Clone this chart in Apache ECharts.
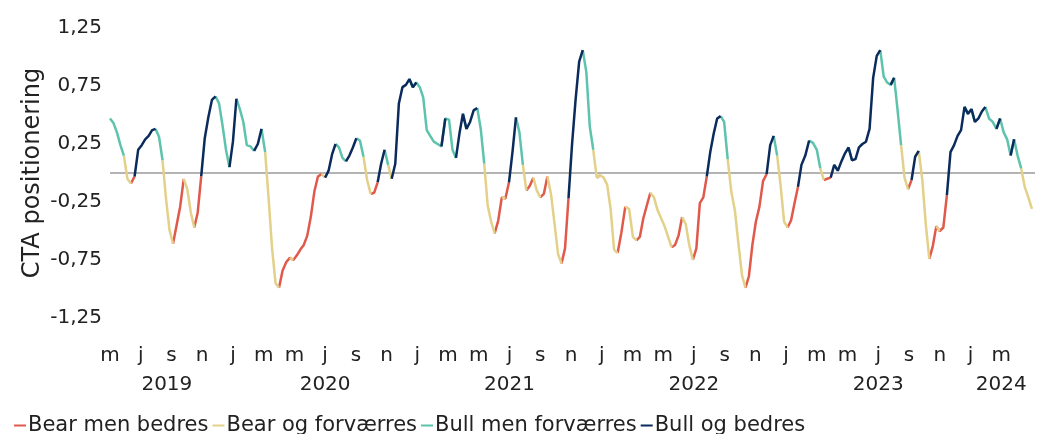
<!DOCTYPE html>
<html>
<head>
<meta charset="utf-8">
<script src="https://cdn.jsdelivr.net/npm/echarts@6/dist/echarts.min.js"></script>
<style>
    html, body { margin: 0; padding: 0; background: #fff; }
    #chart { width: 1048px; height: 434px; }
</style>
</head>
<body>
<div id="chart"></div>
<script>
    // weekly CTA positioning, first point 2019-05-01
    const startDate = '2019-05-01';
    const cta = [
        0.47, 0.43, 0.35, 0.24, 0.15, -0.05, -0.09, -0.03, 0.20, 0.24,
        0.29, 0.32, 0.37, 0.38, 0.31, 0.11, -0.22, -0.49, -0.61, -0.45,
        -0.29, -0.05, -0.14, -0.34, -0.47, -0.34, -0.03, 0.30, 0.48, 0.63,
        0.66, 0.60, 0.41, 0.20, 0.05, 0.27, 0.64, 0.55, 0.44, 0.24,
        0.23, 0.19, 0.25, 0.38, 0.18, -0.22, -0.65, -0.95, -0.99, -0.84,
        -0.77, -0.73, -0.75, -0.71, -0.66, -0.62, -0.54, -0.38, -0.16, -0.03,
        -0.01, -0.04, 0.02, 0.16, 0.25, 0.22, 0.13, 0.10, 0.15, 0.22,
        0.30, 0.28, 0.14, -0.06, -0.18, -0.17, -0.08, 0.08, 0.20, 0.07,
        -0.05, 0.08, 0.60, 0.74, 0.76, 0.81, 0.74, 0.78, 0.74, 0.65,
        0.37, 0.32, 0.27, 0.25, 0.23, 0.47, 0.46, 0.20, 0.13, 0.34,
        0.51, 0.38, 0.44, 0.54, 0.56, 0.38, 0.08, -0.28, -0.42, -0.52,
        -0.41, -0.21, -0.22, -0.08, 0.18, 0.48, 0.35, 0.07, -0.15, -0.11,
        -0.04, -0.15, -0.21, -0.18, -0.03, -0.18, -0.44, -0.70, -0.78, -0.65,
        -0.22, 0.24, 0.63, 0.96, 1.06, 0.87, 0.40, 0.20, -0.04, -0.02,
        -0.04, -0.10, -0.31, -0.66, -0.69, -0.51, -0.29, -0.31, -0.55, -0.58,
        -0.55, -0.39, -0.28, -0.17, -0.21, -0.32, -0.39, -0.46, -0.55, -0.64,
        -0.62, -0.54, -0.38, -0.44, -0.62, -0.75, -0.65, -0.26, -0.21, -0.03,
        0.18, 0.34, 0.47, 0.49, 0.44, 0.12, -0.16, -0.32, -0.61, -0.88,
        -0.99, -0.89, -0.62, -0.42, -0.29, -0.07, -0.01, 0.24, 0.32, 0.15,
        -0.11, -0.42, -0.47, -0.41, -0.26, -0.12, 0.07, 0.15, 0.28, 0.26,
        0.20, 0.04, -0.06, -0.05, -0.04, 0.07, 0.02, 0.10, 0.17, 0.22,
        0.11, 0.12, 0.22, 0.25, 0.27, 0.38, 0.82, 1.01, 1.06, 0.83,
        0.78, 0.76, 0.82, 0.54, 0.24, -0.04, -0.14, -0.06, 0.14, 0.19,
        -0.06, -0.45, -0.74, -0.63, -0.46, -0.50, -0.47, -0.19, 0.18, 0.24,
        0.32, 0.37, 0.57, 0.51, 0.55, 0.44, 0.47, 0.53, 0.57, 0.47,
        0.44, 0.38, 0.47, 0.35, 0.29, 0.15, 0.29, 0.15, 0.04, -0.12,
        -0.21, -0.31
    ];

    const regimeNames = ['Bear men bedres', 'Bear og forværres', 'Bull men forværres', 'Bull og bedres'];
    const regimeColors = ['#E0594A', '#E3D089', '#5DC3AD', '#0B2B5C'];
    const monthLetters = ['j', 'f', 'm', 'a', 'm', 'j', 'j', 'a', 's', 'o', 'n', 'd'];
    const yearLabels = ['2019', '2020', '2021', '2022', '2023', '2024'];
    const yearPos = [3.7, 14, 26, 38, 50, 58];

    // position in months since May 2019
    function monthPos(t) {
        const d = new Date(t);
        const y = d.getUTCFullYear(), m = d.getUTCMonth(), day = d.getUTCDate();
        const dim = new Date(Date.UTC(y, m + 1, 0)).getUTCDate();
        return (y - 2019) * 12 + (m - 4) + (day - 1) / dim;
    }

    // 0 bear improving, 1 bear worsening, 2 bull worsening, 3 bull improving
    function regimeOf(i) {
        const rising = i > 0 ? cta[i] >= cta[i - 1] : cta[i + 1] > cta[i];
        if (cta[i] < 0) return rising ? 0 : 1;
        return rising ? 3 : 2;
    }

    const t0 = Date.parse(startDate + 'T00:00:00Z');
    const xs = cta.map((v, i) => monthPos(t0 + i * 7 * 86400000));
    const regimes = cta.map((v, i) => regimeOf(i));

    // a point belongs to its own regime and to the one of the next step,
    // so every step between two weeks is drawn in the colour of where it ends
    function inRegime(i, k) {
        return regimes[i] === k || (i + 1 < regimes.length && regimes[i + 1] === k);
    }

    const font = 'DejaVu Sans';
    let myChart = echarts.init(document.getElementById('chart'));

    let series = regimeNames.map((name, k) => ({
        name: name,
        type: 'line',
        showSymbol: false,
        connectNulls: false,
        lineStyle: { width: 2.5, color: regimeColors[k] },
        itemStyle: { color: regimeColors[k] },
        z: 3,
        data: cta.map((v, i) => [xs[i], inRegime(i, k) ? v : null])
    }));
    series[0].markLine = {
        silent: true,
        symbol: 'none',
        label: { show: false },
        lineStyle: { color: '#9a9a9a', width: 1.5, type: 'solid' },
        z: 1,
        data: [{ yAxis: 0 }]
    };

    let option = {
        animation: false,
        textStyle: { fontFamily: font },
        grid: {
            left: 110,
            right: 13,
            top: 28,
            bottom: 116,
            containLabel: false,
            outerBoundsMode: 'none'
        },
        legend: {
            left: 14,
            top: 415,
            icon: 'rect',
            itemWidth: 12,
            itemHeight: 2,
            itemGap: 4,
            padding: 0,
            textStyle: { fontFamily: font, fontSize: 21, color: '#222', padding: [0, 0, 0, -3] },
            data: regimeNames
        },
        xAxis: [
            {
                type: 'value',
                position: 'bottom',
                min: 0,
                max: 60.2,
                interval: 2,
                axisLine: { show: false },
                axisTick: { show: false },
                splitLine: { show: false },
                axisLabel: {
                    showMaxLabel: false,
                    margin: 28,
                    fontFamily: font,
                    fontSize: 20,
                    color: '#222',
                    formatter: v => (v > 58 ? '' : monthLetters[(4 + v) % 12])
                }
            },
            {
                type: 'value',
                position: 'bottom',
                offset: 0,
                min: 0,
                max: 60.2,
                axisLine: { show: false },
                axisTick: { show: false },
                splitLine: { show: false },
                axisLabel: {
                    customValues: yearPos,
                    margin: 57,
                    fontFamily: font,
                    fontSize: 20,
                    color: '#222',
                    formatter: v => {
                        const k = yearPos.findIndex(p => Math.abs(p - v) < 0.01);
                        return k < 0 ? '' : yearLabels[k];
                    }
                }
            }
        ],
        yAxis: {
            type: 'value',
            min: -1.25,
            max: 1.25,
            interval: 0.5,
            name: 'CTA positionering',
            nameLocation: 'middle',
            nameGap: 65,
            nameMoveOverlap: false,
            nameTextStyle: { fontFamily: font, fontSize: 24, color: '#222' },
            axisLine: { show: false },
            axisTick: { show: false },
            splitLine: { show: false },
            axisLabel: {
                margin: 8,
                fontFamily: font,
                fontSize: 20,
                color: '#222',
                formatter: v => v.toFixed(2).replace('.', ',')
            }
        },
        series: series
    };

    myChart.setOption(option);
</script>
</body>
</html>
